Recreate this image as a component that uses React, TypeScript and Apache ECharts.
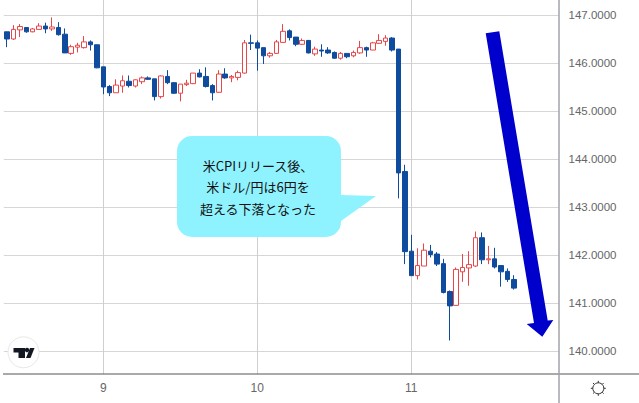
import React, { useEffect, useRef } from "react";
import * as echarts from "echarts";

// [open, close, low, high]
const day8 = [
  [146.65,146.50,146.33,146.65],[146.50,146.70,146.48,146.79],[146.69,146.76,146.54,146.81],[146.74,146.65,146.63,146.74],
  [146.65,146.71,146.64,146.73],[146.70,146.77,146.70,146.83],[146.77,146.71,146.62,146.84],[146.71,146.75,146.67,146.95],
  [146.74,146.59,146.57,146.85],[146.60,146.21,146.21,146.72],[146.20,146.34,146.17,146.38],[146.33,146.37,146.22,146.42],
  [146.32,146.44,146.30,146.56],[146.44,146.38,146.26,146.47],[146.38,145.90,145.89,146.38],
];
const day9 = [
  [145.92,145.50,145.35,145.92],[145.51,145.38,145.31,145.54],[145.38,145.54,145.38,145.66],[145.52,145.63,145.38,145.74],
  [145.62,145.53,145.49,145.74],[145.52,145.65,145.49,145.66],[145.61,145.69,145.56,145.72],[145.69,145.66,145.65,145.72],
  [145.67,145.30,145.22,145.67],[145.30,145.73,145.26,145.74],[145.72,145.59,145.56,145.85],[145.59,145.37,145.36,145.60],
  [145.37,145.56,145.20,145.56],[145.55,145.58,145.52,145.65],[145.57,145.79,145.56,145.79],[145.79,145.71,145.70,145.87],
  [145.72,145.51,145.49,145.91],[145.53,145.38,145.22,145.56],[145.39,145.77,145.38,145.85],[145.77,145.69,145.67,145.89],
  [145.69,145.72,145.60,145.75],[145.70,145.80,145.64,145.84],[145.79,146.42,145.78,146.48],[146.42,146.41,146.27,146.59],
];
const day10 = [
  [146.42,146.31,145.84,146.47],[146.32,146.15,145.98,146.32],[146.15,146.20,146.11,146.23],[146.20,146.44,146.19,146.48],
  [146.43,146.66,146.42,146.81],[146.67,146.53,146.47,146.70],[146.54,146.39,146.35,146.54],[146.39,146.47,146.38,146.51],
  [146.47,146.21,146.20,146.48],[146.19,146.29,146.15,146.34],[146.27,146.25,146.13,146.39],[146.27,146.21,146.19,146.33],
  [146.22,146.10,146.09,146.24],[146.10,146.20,146.07,146.23],[146.20,146.13,146.10,146.20],[146.15,146.22,146.12,146.26],
  [146.21,146.32,146.19,146.46],[146.32,146.27,146.13,146.34],[146.27,146.42,146.27,146.44],[146.41,146.47,146.40,146.60],
  [146.45,146.52,146.36,146.58],[146.52,146.27,146.24,146.54],[146.29,143.71,143.18,146.29],[143.74,142.07,141.81,143.88],
];
const day11 = [
  [142.08,141.57,141.57,142.42],[141.57,141.78,141.49,142.14],[141.77,142.10,141.77,142.24],[142.08,142.01,141.95,142.21],
  [142.02,141.81,141.77,142.06],[141.82,141.22,141.20,141.92],[141.24,140.94,140.22,141.26],[140.95,141.70,140.95,141.74],
  [141.65,141.74,141.44,142.02],[141.73,141.80,141.36,142.08],[141.77,142.36,141.75,142.49],[142.36,141.90,141.81,142.47],
  [141.90,141.92,141.81,142.19],[141.92,141.75,141.72,142.15],[141.78,141.65,141.34,141.78],[141.66,141.49,141.44,141.72],
  [141.49,141.31,141.28,141.58],
];
const xTickValues = [15, 39, 63];
const xTickLabels = ["9", "10", "11"];
const yTickValues = [140, 141, 142, 143, 144, 145, 146, 147];
const calloutLines = ["米CPIリリース後、", "米ドル/円は6円を", "超える下落となった"];

const BLUE = "#0f4c9e";
const RED = "#e8474a";
const AXIS_FONT = "'Liberation Sans', Arial, sans-serif";

const calloutPath =
  "M192 136H326A15 15 0 0 1 341 151V195L376 196L341 221V222A15 15 0 0 1 326 237H192A15 15 0 0 1 177 222V151A15 15 0 0 1 192 136Z";
echarts.graphic.registerShape("callout", echarts.graphic.extendPath(calloutPath, {}));

export default function App() {
  const ref = useRef<HTMLDivElement>(null);
  useEffect(() => {
    document.body.style.margin = "0";
    const chart = echarts.init(ref.current!, null, { renderer: "svg" });
    const rows = [...day8, ...day9, ...day10, ...day11].map((r, i) => [i, ...r]);
    const gearCx = 598.3;
    const gearCy = 388.3;
    const gearTicks = [0, 1, 2, 3, 4, 5, 6, 7].map((k) => {
      const a = (k * Math.PI) / 4;
      return {
        type: "line",
        z: 100,
        shape: {
          x1: gearCx + Math.cos(a) * 5.5,
          y1: gearCy + Math.sin(a) * 5.5,
          x2: gearCx + Math.cos(a) * 7.5,
          y2: gearCy + Math.sin(a) * 7.5,
        },
        style: { stroke: "#333", lineWidth: 1 },
      };
    });
    chart.setOption({
      animation: false,
      backgroundColor: "#fff",
      grid: { left: 3.8, top: 0, width: 554.7, height: 374, containLabel: false },
      xAxis: {
        type: "value",
        min: -0.5,
        max: 85.94,
        axisLine: { show: false },
        axisTick: { show: false, customValues: xTickValues },
        splitLine: { show: true, lineStyle: { color: "#cfcfcf", width: 1 } },
        axisLabel: {
          customValues: xTickValues,
          formatter: (v: number) => xTickLabels[xTickValues.indexOf(v)] ?? "",
          color: "#666",
          fontFamily: AXIS_FONT,
          fontSize: 12,
          margin: 8,
        },
      },
      yAxis: {
        type: "value",
        position: "right",
        min: 139.5208,
        max: 147.3125,
        scale: true,
        axisLine: { show: false },
        axisTick: { show: false, customValues: yTickValues },
        splitLine: { show: true, lineStyle: { color: "#d6d6d6", width: 1 } },
        axisLabel: {
          customValues: yTickValues,
          formatter: (v: number) => v.toFixed(4),
          color: "#666",
          fontFamily: AXIS_FONT,
          fontSize: 11.5,
          margin: 10,
        },
      },
      series: [
        {
          type: "candlestick",
          data: rows,
          encode: { x: 0, y: [1, 2, 3, 4] },
          barWidth: 5,
          itemStyle: {
            color: "#ffffff",
            color0: BLUE,
            borderColor: RED,
            borderColor0: BLUE,
            borderWidth: 1,
          },
        },
      ],
      graphic: [
        { type: "line", z: 90, shape: { x1: 3, y1: 374, x2: 639, y2: 374 }, style: { stroke: "#555", lineWidth: 1 } },
        { type: "line", z: 91, shape: { x1: 559, y1: 0, x2: 559, y2: 403 }, style: { stroke: "#a3a3a8", lineWidth: 1.5 } },
        { type: "callout", z: 100, style: { fill: "#8ff3ff" } },
        ...calloutLines.map((t, i) => ({
          type: "text",
          z: 101,
          x: 258,
          y: 165 + i * 21.5,
          style: {
            text: t,
            fill: "#111",
            font: "13px 'Noto Sans CJK JP', sans-serif",
            textAlign: "center",
            textVerticalAlign: "middle",
          },
        })),
        {
          type: "polygon",
          z: 100,
          shape: {
            points: [
              [485.7, 33.3], [499.3, 31.3], [547.7, 320.5], [553.3, 320],
              [542.3, 336.7], [526.7, 324], [534, 323],
            ],
          },
          style: { fill: "#0000cc" },
        },
        { type: "circle", z: 100, shape: { cx: 23.5, cy: 352.3, r: 15.5 }, style: { fill: "#fff", stroke: "#e8e8e8", lineWidth: 1 } },
        {
          type: "polygon",
          z: 101,
          shape: { points: [[13.5, 348], [25, 348], [25, 358], [18.5, 358], [18.5, 352.5], [13.5, 352.5]] },
          style: { fill: "#131722" },
        },
        { type: "circle", z: 101, shape: { cx: 27, cy: 350, r: 2.2 }, style: { fill: "#131722" } },
        {
          type: "polygon",
          z: 101,
          shape: { points: [[30, 348], [34.5, 348], [30.5, 358], [26, 358]] },
          style: { fill: "#131722" },
        },
        { type: "circle", z: 100, shape: { cx: gearCx, cy: gearCy, r: 5.5 }, style: { fill: "none", stroke: "#333", lineWidth: 1 } },
        ...gearTicks,
      ],
    });
    return () => chart.dispose();
  }, []);
  return <div ref={ref} style={{ width: 639, height: 403, position: "absolute", left: 0, top: 0 }} />;
}
